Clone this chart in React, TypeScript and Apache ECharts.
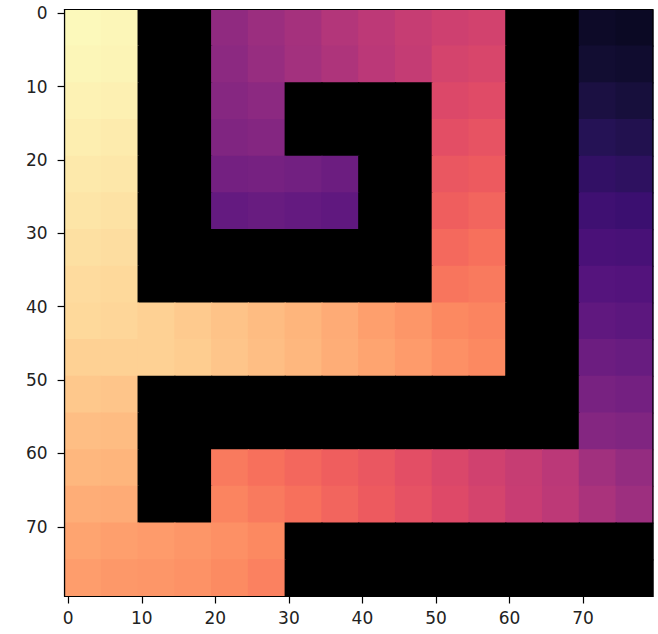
import React, { useEffect, useRef } from "react";
import * as echarts from "echarts";

// Image values on a 5-unit sampling grid (16 x 16),
// rows top to bottom (y = 0..79), columns left to right (x = 0..79). 0 = wall.
const CELL = 5;
const VALUES: number[][] = [
  [0.99, 0.985, 0, 0, 0.41, 0.435, 0.46, 0.49, 0.515, 0.54, 0.56, 0.57, 0, 0, 0.06, 0.05],
  [0.985, 0.98, 0, 0, 0.40, 0.425, 0.455, 0.48, 0.51, 0.535, 0.575, 0.585, 0, 0, 0.09, 0.08],
  [0.975, 0.97, 0, 0, 0.385, 0.40, 0, 0, 0, 0, 0.595, 0.605, 0, 0, 0.12, 0.11],
  [0.965, 0.96, 0, 0, 0.37, 0.38, 0, 0, 0, 0, 0.615, 0.63, 0, 0, 0.15, 0.14],
  [0.955, 0.95, 0, 0, 0.34, 0.345, 0.335, 0.32, 0, 0, 0.64, 0.65, 0, 0, 0.18, 0.17],
  [0.945, 0.94, 0, 0, 0.30, 0.31, 0.30, 0.29, 0, 0, 0.66, 0.675, 0, 0, 0.21, 0.20],
  [0.935, 0.93, 0, 0, 0, 0, 0, 0, 0, 0, 0.685, 0.70, 0, 0, 0.235, 0.23],
  [0.925, 0.92, 0, 0, 0, 0, 0, 0, 0, 0, 0.71, 0.72, 0, 0, 0.26, 0.255],
  [0.92, 0.915, 0.905, 0.89, 0.875, 0.86, 0.845, 0.825, 0.80, 0.78, 0.75, 0.74, 0, 0, 0.29, 0.28],
  [0.905, 0.905, 0.905, 0.895, 0.88, 0.865, 0.85, 0.83, 0.81, 0.79, 0.765, 0.75, 0, 0, 0.32, 0.31],
  [0.885, 0.88, 0, 0, 0, 0, 0, 0, 0, 0, 0, 0, 0, 0, 0.35, 0.34],
  [0.865, 0.86, 0, 0, 0, 0, 0, 0, 0, 0, 0, 0, 0, 0, 0.38, 0.37],
  [0.85, 0.845, 0, 0, 0.72, 0.70, 0.68, 0.66, 0.64, 0.615, 0.59, 0.565, 0.54, 0.51, 0.45, 0.42],
  [0.83, 0.825, 0, 0, 0.74, 0.72, 0.70, 0.675, 0.65, 0.625, 0.60, 0.575, 0.545, 0.515, 0.47, 0.44],
  [0.81, 0.80, 0.79, 0.78, 0.765, 0.75, 0, 0, 0, 0, 0, 0, 0, 0, 0, 0],
  [0.795, 0.785, 0.78, 0.77, 0.755, 0.735, 0, 0, 0, 0, 0, 0, 0, 0, 0, 0],
];

const X_TICKS = [0, 10, 20, 30, 40, 50, 60, 70];
const Y_TICKS = [0, 10, 20, 30, 40, 50, 60, 70];

const MAGMA = [
  "#000000", "#0b0924", "#140e36", "#251255", "#3b0f70", "#51127c", "#641a80",
  "#782281", "#8c2981", "#a1307e", "#b73779", "#ca3e72", "#de4968", "#ed5a5f",
  "#f7705c", "#fc8961", "#fe9f6d", "#feb77e", "#fecf92", "#fde7a9", "#fcfdbf",
];

export default function App() {
  const ref = useRef<HTMLDivElement>(null);

  useEffect(() => {
    if (!ref.current) return;
    document.body.style.margin = "0";
    const chart = echarts.init(ref.current, undefined, { renderer: "svg" });

    const data: number[][] = [];
    VALUES.forEach((row, j) => {
      row.forEach((v, i) => {
        data.push([i * CELL - 0.5, j * CELL - 0.5, v]);
      });
    });

    const axisCommon = {
      type: "value" as const,
      min: -0.5,
      max: 79.5,
      axisLine: { show: true, onZero: false, lineStyle: { color: "#000", width: 1.2 } },
      axisTick: {
        show: true,
        length: 7,
        inside: false,
        lineStyle: { color: "#000", width: 1.2 },
      },
      splitLine: { show: false },
    };

    chart.setOption({
      animation: false,
      backgroundColor: "#fff",
      grid: {
        left: 64.6,
        top: 9.5,
        width: 588.3,
        height: 587,
        show: true,
        borderColor: "#000",
        borderWidth: 1.2,
        backgroundColor: "transparent",
        z: 5,
      },
      xAxis: {
        ...axisCommon,
        axisTick: { ...axisCommon.axisTick, customValues: X_TICKS },
        axisLabel: {
          customValues: X_TICKS,
          fontFamily: "DejaVu Sans",
          fontSize: 17,
          color: "#222",
          margin: 13,
        },
      },
      yAxis: {
        ...axisCommon,
        inverse: true,
        axisTick: { ...axisCommon.axisTick, customValues: Y_TICKS },
        axisLabel: {
          customValues: Y_TICKS,
          fontFamily: "DejaVu Sans",
          fontSize: 17,
          color: "#222",
          margin: 17,
        },
      },
      visualMap: {
        show: false,
        type: "continuous",
        min: 0,
        max: 1,
        dimension: 2,
        seriesIndex: 0,
        inRange: { color: MAGMA },
      },
      series: [
        {
          type: "custom",
          clip: true,
          encode: { x: 0, y: 1 },
          data,
          renderItem: (_params: any, api: any) => {
            const x0 = api.value(0);
            const y0 = api.value(1);
            const p1 = api.coord([x0, y0]);
            const p2 = api.coord([x0 + CELL, y0 + CELL]);
            const color = api.visual("color");
            const pad = 0.6;
            return {
              type: "rect",
              shape: {
                x: Math.min(p1[0], p2[0]) - pad,
                y: Math.min(p1[1], p2[1]) - pad,
                width: Math.abs(p2[0] - p1[0]) + 2 * pad,
                height: Math.abs(p2[1] - p1[1]) + 2 * pad,
              },
              style: { fill: color },
            };
          },
        },
      ],
    });

    return () => chart.dispose();
  }, []);

  return (
    <div
      ref={ref}
      style={{ position: "absolute", left: 0, top: 0, width: 658, height: 634 }}
    />
  );
}
